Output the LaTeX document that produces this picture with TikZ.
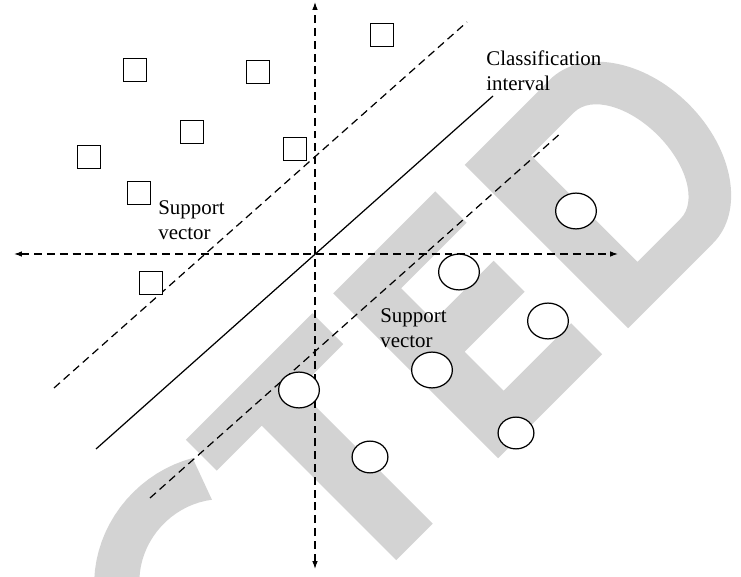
\documentclass[tikz,border=0pt]{standalone}
\usepackage{fontspec}
\setmainfont{Liberation Serif}
\usetikzlibrary{shapes.geometric,arrows.meta}
\definecolor{stampgray}{RGB}{211,211,211}

\begin{document}
\begin{tikzpicture}[x=0.02cm,y=-0.02cm]
    \newcommand{\sqside}{13pt} % side of the squares
    \newcommand{\lw}{0.7pt} % line width

    % set the styles of the points, lines and labels
    \tikzset{
        sq/.style={draw, fill=white, minimum size=\sqside, inner sep=0pt, line width=\lw},
        blob/.style={ellipse, draw, fill=white, minimum width=23.2pt, minimum height=20.4pt, inner sep=0pt, line width=\lw},
        smallblob/.style={blob, minimum width=20.4pt, minimum height=18.1pt},
        axis/.style={dash pattern=on 4.5pt off 2.8pt, line width=\lw, {Latex[length=4.5pt,width=3.2pt]}-{Latex[length=4.5pt,width=3.2pt]}},
        margin/.style={dash pattern=on 4.5pt off 2.8pt, line width=\lw},
        lbl/.style={anchor=north west, inner sep=0pt, align=left, font=\fontsize{11.9}{14.2}\selectfont}
    }
    \useasboundingbox (0,0) rectangle (741,577);

    % stamp in the background
    \begin{scope}
        \clip (0,0) rectangle (741,577);
        \begin{scope}[x={(0.01cm,0.01cm)}, y={(0.01cm,-0.01cm)}]
            % C
            \fill[stampgray] plot[domain=58:235, samples=40] ({-360+178*cos(\x)},{791.5-165.5*sin(\x)})
                -- plot[domain=235:50, samples=40] ({-360+112*cos(\x)},{791.5-103.5*sin(\x)}) -- cycle;
            % T
            \fill[stampgray] (-254,626) -- (-1,626) -- (-1,688) -- (-91,688) -- (-91,957) -- (-164,957)
                -- (-164,688) -- (-254,688) -- cycle;
            % E
            \fill[stampgray] (40,627) -- (244,627) -- (244,690) -- (113,690) -- (113,755) -- (233,755)
                -- (233,817) -- (113,817) -- (113,895) -- (248,895) -- (248,957) -- (40,957) -- cycle;
            % D
            \fill[stampgray, even odd rule] (300,630) -- (470,630) .. controls (533.5,630) and (585,703.2) .. (585,793.5)
                .. controls (585,883.8) and (533.5,957) .. (470,957) -- (300,957) -- cycle
                (376,687) -- (462,687) .. controls (495.7,687) and (523,734.7) .. (523,793.5)
                .. controls (523,852.3) and (495.7,900) .. (462,900) -- (376,900) -- cycle;
        \end{scope}
    \end{scope}

    % axes
    \coordinate (ytop) at (315,2);
    \coordinate (ybot) at (315,569);
    \coordinate (xlft) at (14,254);
    \coordinate (xrgt) at (618,254);
    \draw[axis] (ybot) -- (ytop);
    \draw[axis] (xlft) -- (xrgt);

    % separating line and margins
    \coordinate (upA) at (54,388);
    \coordinate (upB) at (467,22);
    \coordinate (midA) at (96,449);
    \coordinate (midB) at (493,96);
    \coordinate (lowA) at (150,498);
    \coordinate (lowB) at (562,132);
    \draw[margin] (upA) -- (upB);
    \draw[line width=\lw] (midA) -- (midB);
    \draw[margin] (lowA) -- (lowB);

    % squares
    \foreach \px/\py [count=\i] in {135/70, 258/72, 192/132, 89/157, 295/149, 139/193, 151/283, 382/35}
        \node[sq] (sq\i) at (\px,\py) {};

    % circles
    \foreach \px/\py [count=\i] in {576/211, 459/272, 548/321, 432/370, 299/390}
        \node[blob] (ci\i) at (\px,\py) {};
    \node[smallblob] (ci6) at (516,433) {};
    \node[smallblob] (ci7) at (370,457) {};

    % labels
    \node[lbl] (clsint) at (486,50) {Classification\\interval};
    \node[lbl] (supvecA) at (158,200) {Support\\vector};
    \node[lbl] (supvecB) at (380,308) {Support\\vector};
\end{tikzpicture}
\end{document}
